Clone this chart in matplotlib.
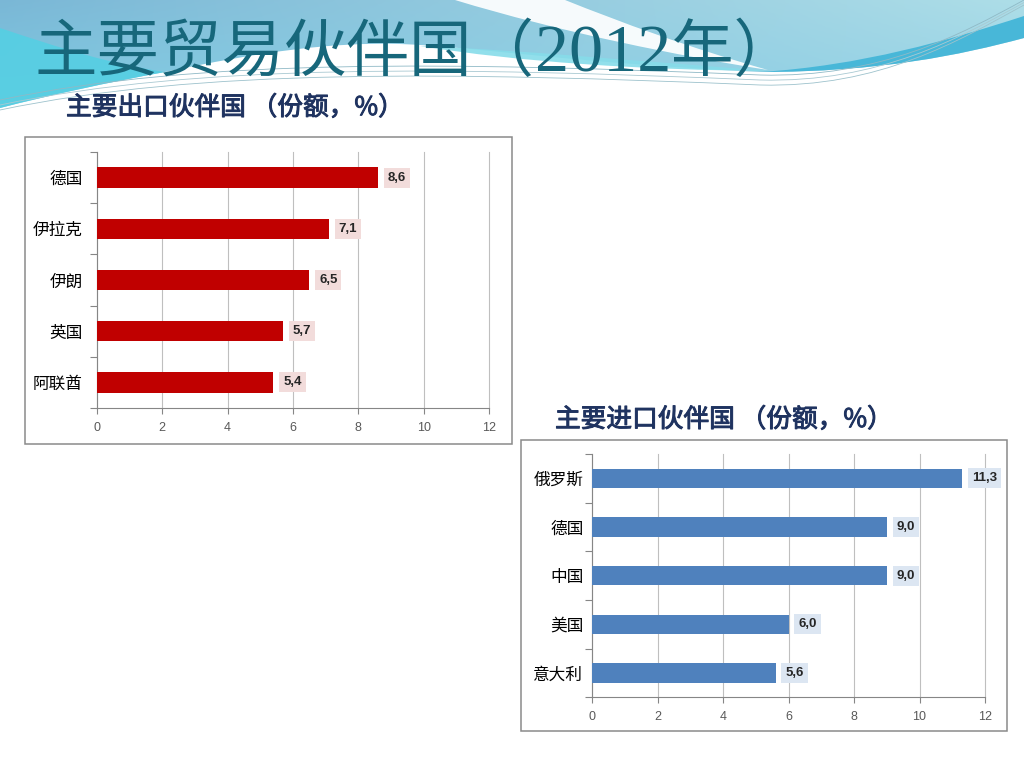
import numpy as np
import matplotlib
matplotlib.use("Agg")
import matplotlib.pyplot as plt
from matplotlib.path import Path
from matplotlib.patches import PathPatch, Rectangle
import matplotlib.patheffects as pe

# ---------------- data ----------------
title_parts = ["主要贸易伙伴国（", "2012", "年）"]
export_title = "主要出口伙伴国 （份额，%）"
import_title = "主要进口伙伴国 （份额，%）"
export_countries = ["德国", "伊拉克", "伊朗", "英国", "阿联酋"]
export_shares = [8.6, 7.1, 6.5, 5.7, 5.4]
import_countries = ["俄罗斯", "德国", "中国", "美国", "意大利"]
import_shares = [11.3, 9.0, 9.0, 6.0, 5.6]
x_ticks = [0, 2, 4, 6, 8, 10, 12]

CJK = ["Noto Sans CJK SC", "DejaVu Sans"]
plt.rcParams["font.family"] = CJK

fig = plt.figure(figsize=(10.24, 7.68), dpi=100)
fig.patch.set_facecolor("white")

# ---------------- background decoration (pixel coordinates) ----------------
bg = fig.add_axes([0, 0, 1, 1], zorder=0)
bg.set_xlim(0, 1024)
bg.set_ylim(768, 0)
bg.axis("off")

M, L, C, Z = Path.MOVETO, Path.LINETO, Path.CURVE4, Path.CLOSEPOLY

band_pts = [(0, 0), (1024, 0), (1024, 38),
            (960, 55), (880, 72), (760, 72),
            (560, 62), (480, 47), (400, 44),
            (330, 42), (260, 52), (165, 72),
            (110, 82), (50, 95), (0, 108),
            (0, 0)]
band_codes = [M, L, L, C, C, C, C, C, C, C, C, C, C, C, C, Z]
band_patch = PathPatch(Path(band_pts, band_codes), fc="none", ec="none")
bg.add_patch(band_patch)
H, W = 60, 128
yy, xx = np.mgrid[0:1:H * 1j, 0:1:W * 1j]
c00 = np.array([0.48, 0.72, 0.84])
c01 = np.array([0.68, 0.87, 0.91])
c10 = np.array([0.50, 0.80, 0.89])
c11 = np.array([0.58, 0.82, 0.90])
img = (c00 * ((1 - xx) * (1 - yy))[..., None] + c01 * (xx * (1 - yy))[..., None]
       + c10 * ((1 - xx) * yy)[..., None] + c11 * (xx * yy)[..., None])
im = bg.imshow(img, extent=[0, 1024, 110, 0], aspect="auto", zorder=1)
im.set_clip_path(band_patch)
bg.set_xlim(0, 1024)
bg.set_ylim(768, 0)

wedge = Path([(0, 28), (60, 48), (110, 64), (165, 72),
              (110, 82), (50, 95), (0, 108), (0, 28)],
             [M, C, C, C, C, C, C, Z])
bg.add_patch(PathPatch(wedge, fc="#55CFE3", ec="none", alpha=0.9, zorder=2))

strip = Path([(420, 46), (520, 50), (650, 62), (770, 71),
              (640, 70), (520, 62), (420, 46)],
             [M, C, C, C, C, C, Z])
bg.add_patch(PathPatch(strip, fc="#86DCE9", ec="none", alpha=0.9, zorder=2))

rsw = Path([(760, 72), (860, 66), (950, 40), (1024, 16),
            (1024, 38), (960, 55), (880, 72), (760, 72)],
           [M, C, C, C, L, C, C, Z])
bg.add_patch(PathPatch(rsw, fc="#48B7D8", ec="none", zorder=2))

streak = Path([(455, 0), (565, 0), (620, 22), (690, 48), (768, 70),
               (680, 56), (560, 32), (455, 0)],
              [M, L, C, C, C, C, C, Z])
bg.add_patch(PathPatch(streak, fc="white", ec="none", alpha=0.92, zorder=3))

for off, col in [(0, "#8FB9C6"), (5, "#A9C9D2"), (10, "#9DC2CC")]:
    ln = Path([(0, 100 + off), (200, 58 + off), (450, 62 + off), (760, 75 + off),
               (880, 78 + off), (960, 35 + off / 2), (1024, 0 + off / 2)],
              [M, C, C, C, C, C, C])
    bg.add_patch(PathPatch(ln, fc="none", ec=col, lw=0.6, zorder=4))

bg.add_patch(Rectangle((24.7, 136.7), 487, 307.3, fc="white", ec="#8A8A8A", lw=1.1, zorder=5))
bg.add_patch(Rectangle((520.7, 440), 486.6, 291, fc="white", ec="#8A8A8A", lw=1.1, zorder=5))

# ---------------- title (pieces placed one after another) ----------------
title_color = "#17677B"
renderer = fig.canvas.get_renderer()
x_px, base_px = 35.0, 71.0
sizes = [45, 49, 45]
fams = [CJK, ["Liberation Serif", "Noto Sans CJK SC"], CJK]
for part, sz, fam in zip(title_parts, sizes, fams):
    t = fig.text(x_px / 1024, 1 - base_px / 768, part, ha="left", va="baseline",
                 fontsize=sz, color=title_color, family=fam, zorder=10)
    bb = t.get_window_extent(renderer)
    x_px = bb.x1

sub_color = "#1F3360"
sub_fx = [pe.withStroke(linewidth=0.7, foreground=sub_color)]
fig.text(66 / 1024, 1 - 108 / 768, export_title, ha="left", va="center",
         fontsize=18.5, color=sub_color, family=CJK, zorder=10, path_effects=sub_fx)
fig.text(555 / 1024, 1 - 420 / 768, import_title, ha="left", va="center",
         fontsize=18.5, color=sub_color, family=CJK, zorder=10, path_effects=sub_fx)


def fmt(v):
    return f"{v:.1f}".replace(".", ",")


def draw_chart(rect, cats, vals, bar_color, box_color, label_pad):
    ax = fig.add_axes(rect, zorder=6)
    ax.set_facecolor("none")
    y = np.arange(len(cats))
    ax.barh(y, vals, height=0.4, color=bar_color, zorder=3)
    ax.set_xlim(0, 12)
    ax.set_ylim(len(cats) - 0.5, -0.5)
    ax.set_xticks(x_ticks)
    ax.set_xticklabels([str(t) for t in x_ticks], family="Liberation Sans")
    ax.set_yticks(y)
    ax.set_yticklabels(cats, fontsize=12, color="black")
    ax.set_yticks(np.arange(-0.5, len(cats)), minor=True)
    ax.tick_params(axis="y", which="major", length=0, pad=label_pad)
    ax.tick_params(axis="y", which="minor", length=5, color="#868686", width=0.8)
    ax.tick_params(axis="x", length=4, color="#868686", width=0.8, pad=6,
                   labelsize=9, labelcolor="#595959")
    ax.grid(axis="x", color="#BFBFBF", lw=0.8)
    for gl in ax.get_xgridlines():
        gl.set_clip_on(False)
    ax.set_axisbelow(True)
    for s in ["top", "right"]:
        ax.spines[s].set_visible(False)
    for s in ["left", "bottom"]:
        ax.spines[s].set_color("#868686")
        ax.spines[s].set_linewidth(0.8)
    for yi, v in zip(y, vals):
        ax.annotate(fmt(v), xy=(v, yi), xytext=(7, 0), textcoords="offset points",
                    ha="left", va="center", fontsize=9.5, fontweight="bold",
                    family="Liberation Sans", color="#262626", zorder=5,
                    bbox=dict(boxstyle="square,pad=0.3", fc=box_color, ec="none"))
    return ax


draw_chart([96.7 / 1024, 1 - 408 / 768, 392.6 / 1024, 256 / 768],
           export_countries, export_shares, "#C00000", "#F2DCDB", 10)
draw_chart([592.3 / 1024, 1 - 697.3 / 768, 392.7 / 1024, 243.3 / 768],
           import_countries, import_shares, "#4F81BD", "#DCE6F2", 6.5)

fig.savefig("out.png", dpi=100)
